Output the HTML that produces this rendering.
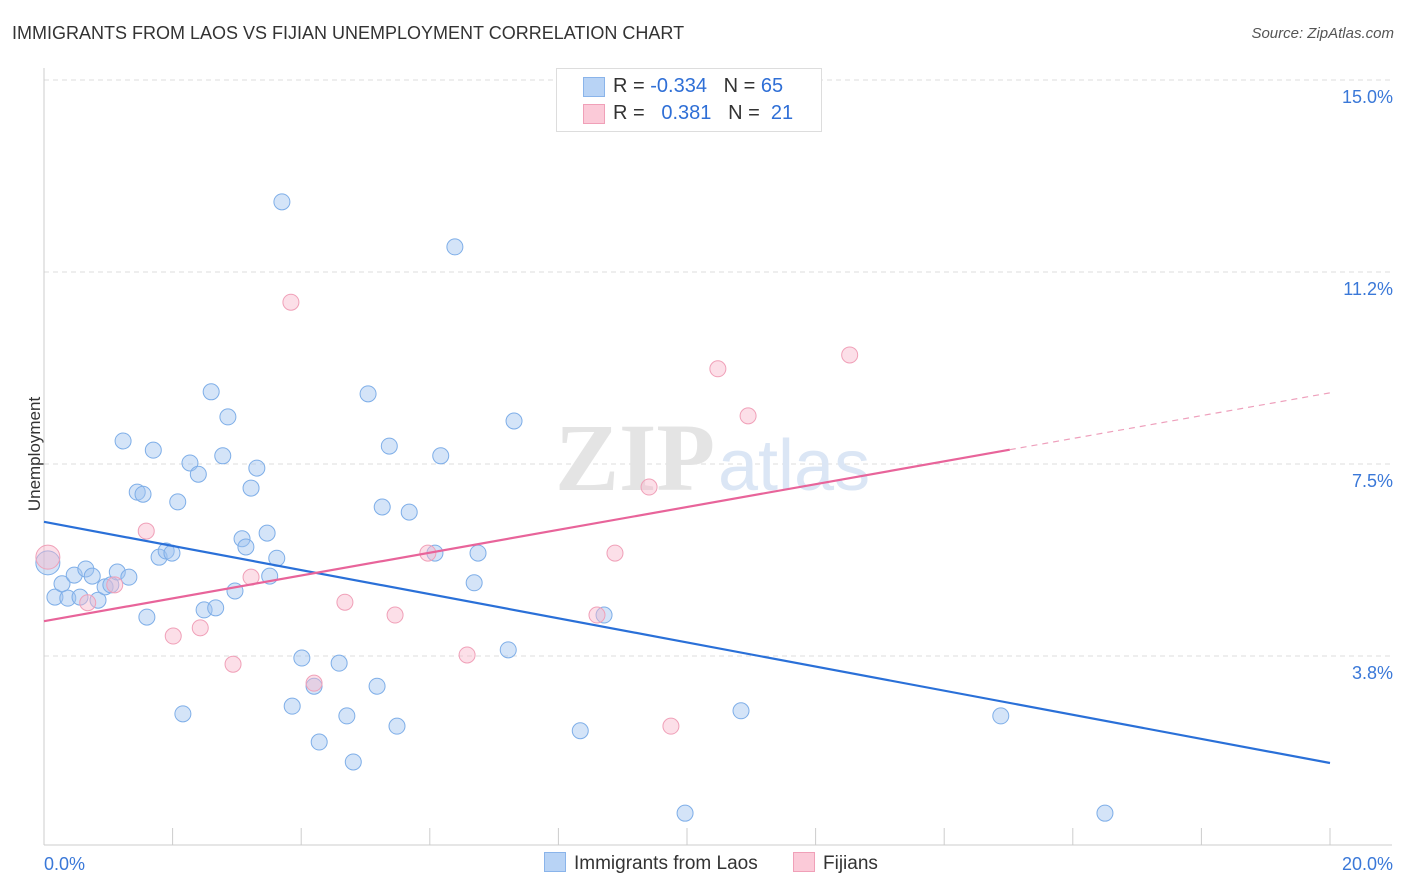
<!DOCTYPE html>
<html><head><meta charset="utf-8"><style>
body{margin:0;background:#fff;font-family:"Liberation Sans",sans-serif;}
#wrap{position:relative;width:1406px;height:892px;overflow:hidden;}
.t{position:absolute;white-space:nowrap;}
</style></head><body>
<div id="wrap">
<div class="t" style="left:12px;top:23px;font-size:18px;color:#333;">IMMIGRANTS FROM LAOS VS FIJIAN UNEMPLOYMENT CORRELATION CHART</div>
<div class="t" style="right:12px;top:25px;font-size:15px;color:#555;font-style:italic;">Source: ZipAtlas.com</div>
<div class="t" style="left:-22px;top:444px;font-size:17px;color:#333;transform:rotate(-90deg);">Unemployment</div>
<svg id="chart" width="1406" height="892" style="position:absolute;left:0;top:0"></svg>
<div class="t" style="left:556px;top:68px;width:264px;height:62px;border:1px solid #ddd;background:#fff;font-size:20px;">
<div style="position:absolute;left:26px;top:8px;width:20px;height:18px;background:#b8d3f5;border:1px solid #8ab4ea;"></div>
<div style="position:absolute;left:56px;top:6px;color:#333;">R = <span style="color:#2f6fd6">-0.334</span>&nbsp;&nbsp;&nbsp;N = <span style="color:#2f6fd6">65</span></div>
<div style="position:absolute;left:26px;top:35px;width:20px;height:18px;background:#fbcad8;border:1px solid #f0a0b8;"></div>
<div style="position:absolute;left:56px;top:33px;color:#333;">R = &nbsp;&nbsp;<span style="color:#2f6fd6">0.381</span>&nbsp;&nbsp;&nbsp;N = &nbsp;<span style="color:#2f6fd6">21</span></div>
</div>
<div class="t" style="left:544px;top:852px;font-size:19px;color:#333;">
<span style="display:inline-block;width:20px;height:18px;background:#b8d3f5;border:1px solid #8ab4ea;vertical-align:-3px;margin-right:8px"></span>Immigrants from Laos
<span style="display:inline-block;width:20px;height:18px;background:#fbcad8;border:1px solid #f0a0b8;vertical-align:-3px;margin:0 8px 0 30px"></span>Fijians</div>
</div>
<script>
const yTicks=[15.0,11.25,7.5,3.75];
const yTickLabels=["15.0%","11.2%","7.5%","3.8%"];
const xTickLabels=["0.0%","20.0%"];
const laosX=[0.06,0.17,0.28,0.37,0.47,0.56,0.65,0.75,0.84,0.95,1.04,1.14,1.23,1.32,1.45,1.54,1.60,1.70,1.79,1.90,1.99,2.08,2.16,2.27,2.40,2.49,2.60,2.67,2.78,2.86,2.97,3.08,3.14,3.22,3.31,3.47,3.51,3.62,3.70,3.86,4.01,4.20,4.28,4.59,4.71,4.81,5.04,5.18,5.26,5.37,5.49,5.68,6.08,6.17,6.39,6.69,6.75,7.22,7.31,8.34,8.71,9.97,10.84,14.88,16.50];
const laosY=[5.57,4.90,5.16,4.88,5.33,4.90,5.45,5.31,4.84,5.10,5.14,5.39,7.95,5.29,6.95,6.91,4.51,7.77,5.68,5.80,5.76,6.76,2.62,7.52,7.30,4.65,8.91,4.69,7.66,8.42,5.02,6.04,5.88,7.03,7.42,6.15,5.31,5.66,12.62,2.77,3.71,3.16,2.07,3.61,2.58,1.68,8.87,3.16,6.66,7.85,2.38,6.56,5.76,7.66,11.74,5.18,5.76,3.87,8.34,2.29,4.55,0.68,2.68,2.58,0.68];
const fijiX=[0.06,0.68,1.10,1.59,2.01,2.43,2.94,3.22,3.84,4.20,4.68,5.46,5.97,6.58,8.60,8.88,9.41,9.75,10.48,10.95,12.53];
const fijiY=[5.68,4.79,5.14,6.19,4.14,4.30,3.59,5.29,10.66,3.22,4.80,4.55,5.76,3.77,4.55,5.76,7.05,2.38,9.36,8.44,9.63];
const laosTrend=[6.37,1.66];
const fijiTrend=[4.43,8.89];
const fijiSolidEnd=15.02;

const svg=document.getElementById('chart');const NS='http://www.w3.org/2000/svg';
const X=v=>44+v*64.3, Y=v=>80+(15-v)*51.2;
function mk(t,a){const e=document.createElementNS(NS,t);for(const k in a)e.setAttribute(k,a[k]);svg.appendChild(e);return e;}
yTicks.forEach((v,i)=>{
 const g=mk('line',{x1:44,x2:1392,y1:Y(v),y2:Y(v),stroke:'#ddd','stroke-dasharray':'5,4'});
 
 
 const t=mk('text',{x:1393,y:Y(v)+23,'text-anchor':'end','font-size':18,fill:'#3a78d8','font-family':'Liberation Sans'});
 t.textContent=yTickLabels[i];
 
 
});
const ax=mk('line',{x1:44,x2:1392,y1:845,y2:845,stroke:'#ccc'});


const ay=mk('line',{x1:44,x2:44,y1:68,y2:845,stroke:'#ccc'});


for(let i=0;i<=10;i++){const l=mk('line',{x1:X(i*2),x2:X(i*2),y1:828,y2:845,stroke:'#ccc'});
 
 }
[[0,'start',44],[20,'end',1393]].forEach((d,i)=>{const t=mk('text',{x:d[2],y:870,'text-anchor':d[1],'font-size':18,fill:'#3a78d8','font-family':'Liberation Sans'});t.textContent=xTickLabels[i];
 
 });
const wm=mk('text',{x:555,y:490,'font-size':96,fill:'#e4e4e4','font-family':'Liberation Serif','font-weight':'bold'});wm.textContent='ZIP';


const wm2=mk('text',{x:718,y:490,'font-size':72,fill:'#dbe6f5','font-family':'Liberation Sans'});wm2.textContent='atlas';


laosX.forEach((x,i)=>{const c=mk('circle',{cx:X(x),cy:Y(laosY[i]),r:i==0?12:8,fill:'rgba(160,195,240,0.45)',stroke:'#7eaee8','stroke-width':1});
 
 });
fijiX.forEach((x,i)=>{const c=mk('circle',{cx:X(x),cy:Y(fijiY[i]),r:i==0?12:8,fill:'rgba(248,185,205,0.45)',stroke:'#f0a0b8','stroke-width':1});
 
 });
const bl=mk('line',{x1:X(0),y1:Y(laosTrend[0]),x2:X(20),y2:Y(laosTrend[1]),stroke:'#2a70d8','stroke-width':2.2});


const fm=fijiTrend[0]+(fijiTrend[1]-fijiTrend[0])*fijiSolidEnd/20;
const pl=mk('line',{x1:X(0),y1:Y(fijiTrend[0]),x2:X(fijiSolidEnd),y2:Y(fm),stroke:'#e8649a','stroke-width':2.2});


const pd=mk('line',{x1:X(fijiSolidEnd),y1:Y(fm),x2:X(20),y2:Y(fijiTrend[1]),stroke:'#eea0bc','stroke-width':1.2,'stroke-dasharray':'6,5'});


</script>
</body></html>
